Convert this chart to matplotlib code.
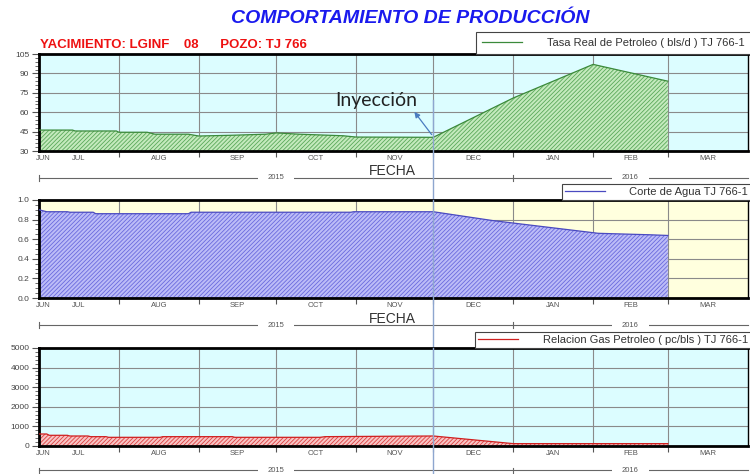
import matplotlib
matplotlib.use('Agg')
import matplotlib.pyplot as plt
import matplotlib.transforms as mtransforms
from matplotlib.ticker import MultipleLocator, FormatStrFormatter
import pandas as pd

plt.rcParams['font.family'] = ['Liberation Sans Narrow', 'Liberation Sans', 'DejaVu Sans']
plt.rcParams['hatch.linewidth'] = 0.6

# Tasa real de petroleo (bls/d)
oil_dates = ['2015-07-01', '2015-07-14', '2015-07-15', '2015-07-31', '2015-08-01',
             '2015-08-12', '2015-08-15', '2015-08-28', '2015-09-01', '2015-09-14',
             '2015-09-27', '2015-10-01', '2015-10-10', '2015-10-27', '2015-11-01',
             '2015-11-30', '2015-12-01', '2016-01-01', '2016-02-01', '2016-03-01']
oil_rate = [46.2, 46.2, 45.5, 45.5, 44.5, 44.5, 43.0, 43.0, 41.6, 42.2,
            43.0, 44.0, 43.0, 41.8, 40.8, 40.6, 40.6, 71.0, 97.0, 84.0]

# Corte de agua (fraccion)
water_dates = ['2015-07-01', '2015-07-04', '2015-07-12', '2015-07-13', '2015-07-22',
               '2015-07-23', '2015-08-28', '2015-08-29', '2015-10-30', '2015-10-31',
               '2015-12-01', '2015-12-24', '2016-02-03', '2016-02-23', '2016-03-01']
water_cut = [0.90, 0.88, 0.88, 0.875, 0.875, 0.86, 0.86, 0.875, 0.875, 0.88,
             0.88, 0.79, 0.66, 0.645, 0.638]

# Relacion gas petroleo (pc/bls)
gas_dates = ['2015-07-01', '2015-07-04', '2015-07-05', '2015-07-12', '2015-07-13',
             '2015-07-20', '2015-07-21', '2015-07-27', '2015-07-28', '2015-08-17',
             '2015-08-18', '2015-09-14', '2015-09-15', '2015-10-18', '2015-10-20',
             '2015-12-01', '2016-01-01', '2016-03-01']
gas_ratio = [612, 612, 545, 545, 510, 510, 476, 476, 442, 442,
             476, 476, 442, 442, 476, 510, 120, 120]

injection_date = '2015-12-01'
month_labels = ['JUN', 'JUL', 'AUG', 'SEP', 'OCT', 'NOV', 'DEC', 'JAN', 'FEB', 'MAR']
years = ['2015', '2016']

x_start = pd.Timestamp('2015-07-01')
x_end = pd.Timestamp('2016-04-01')
month_starts = pd.date_range(x_start, x_end, freq='MS')
label_pos = [x_start + pd.Timedelta(days=1.5)] + [
    a + (b - a) / 2 for a, b in zip(month_starts[:-1], month_starts[1:])]
year_spans = [(x_start, pd.Timestamp('2016-01-01')), (pd.Timestamp('2016-01-01'), x_end)]
inj = pd.Timestamp(injection_date)

fig = plt.figure(figsize=(7.5, 4.74), dpi=100)
left, width = 0.052, 0.945
ax1 = fig.add_axes([left, 0.6814, width, 0.2046])
ax2 = fig.add_axes([left, 0.3713, width, 0.2068])
ax3 = fig.add_axes([left, 0.0591, width, 0.2068])


def draw_panel(ax, dates, values, ylim, ystep, ysub, bg, fill_c, hatch_c, line_c, label,
               legend_pad, yb=-0.277):
    x = pd.to_datetime(dates)
    ax.set_facecolor(bg)
    ax.set_axisbelow(True)
    ax.fill_between(x, values, ylim[0], facecolor=fill_c, edgecolor=hatch_c,
                    hatch='////////', linewidth=0, zorder=2)
    ax.plot(x, values, color=line_c, lw=0.9, zorder=3, label=label)
    ax.set_xlim(x_start, x_end)
    ax.set_ylim(*ylim)
    ax.yaxis.set_major_locator(MultipleLocator(ystep))
    ax.yaxis.set_minor_locator(MultipleLocator(ystep / ysub))
    ax.set_xticks(month_starts[1:-1])
    ax.set_xticklabels([])
    ax.set_xticks(label_pos, minor=True)
    ax.set_xticklabels(month_labels, minor=True)
    ax.tick_params(axis='x', which='major', length=4, width=0.8, color='#555')
    ax.tick_params(axis='x', which='minor', length=0, labelsize=5.5, labelcolor='#555', pad=3)
    ax.tick_params(axis='y', which='major', length=5, width=0.8, labelsize=6,
                   labelcolor='#444', color='#555', pad=2)
    ax.tick_params(axis='y', which='minor', length=3, width=0.6, color='#555')
    ax.grid(True, which='major', color='#8a8a8a', lw=0.8)
    for side in ['left', 'top', 'bottom']:
        ax.spines[side].set_linewidth(2)
    ax.spines['right'].set_linewidth(1)
    leg = ax.legend(loc='lower right', bbox_to_anchor=(1.004, 1.0), borderaxespad=0,
                    fancybox=False, edgecolor='#444', fontsize=8, handlelength=3.6,
                    handletextpad=2.2, borderpad=legend_pad, framealpha=1)
    leg.get_frame().set_linewidth(0.8)
    for t in leg.get_texts():
        t.set_color('#333')
    # barra de años
    trans = mtransforms.blended_transform_factory(ax.transData, ax.transAxes)
    for yr, (s, e) in zip(years, year_spans):
        ax.plot([s, e], [yb, yb], transform=trans, clip_on=False, color='#666', lw=0.8)
        ax.plot([s, s], [yb - 0.03, yb + 0.03], transform=trans, clip_on=False,
                color='#666', lw=0.8)
        ax.text(s + (e - s) / 2, yb, yr, transform=trans, ha='center', va='center',
                fontsize=5.5, color='#555', clip_on=False,
                bbox=dict(boxstyle='square,pad=1.3', fc='white', ec='none'))


draw_panel(ax1, oil_dates, oil_rate, (30, 105), 15, 5, '#dcfdff', '#c4eabd', '#5aa85a',
           '#3b8a3b', 'Tasa Real de Petroleo ( bls/d ) TJ 766-1', 0.55)
draw_panel(ax2, water_dates, water_cut, (0, 1.0), 0.2, 4, '#ffffde', '#bcbcf7', '#6a6ade',
           '#4a4ac0', 'Corte de Agua TJ 766-1', 0.25)
draw_panel(ax3, gas_dates, gas_ratio, (0, 5000), 1000, 5, '#dcfdff', '#f7c4c4', '#de4040',
           '#d02020', 'Relacion Gas Petroleo ( pc/bls ) TJ 766-1', 0.25, yb=-0.25)
ax2.yaxis.set_major_formatter(FormatStrFormatter('%.1f'))

# FECHA
for ax in (ax1, ax2):
    ax.text(0.499, -0.21, 'FECHA', transform=ax.transAxes, ha='center', va='center',
            fontsize=10, color='#333')

# linea de inyeccion
ax1.axvline(inj, ymin=-0.5, ymax=0.53, color='#8ea6cf', lw=1.0, clip_on=False, zorder=5)
ax2.axvline(inj, ymin=-0.53, ymax=1.0, color='#8ea6cf', lw=1.0, clip_on=False, zorder=5)
ax3.axvline(inj, ymin=-0.32, ymax=1.0, color='#8ea6cf', lw=1.0, clip_on=False, zorder=5)
ax1.annotate('', xy=(inj - pd.Timedelta(days=8), 62), xytext=(inj, 41),
             arrowprops=dict(arrowstyle='-|>', color='#4a7cc0', lw=0.9, mutation_scale=8),
             zorder=6)
ax1.text(inj - pd.Timedelta(days=22), 69, 'Inyección', fontsize=14, family='Lato',
         ha='center', va='center', color='#222', zorder=6)

fig.text(0.547, 0.962, 'COMPORTAMIENTO DE PRODUCCIÓN', ha='center', va='center',
         fontsize=14, fontweight='bold', fontstyle='italic', color='#1a1aee',
         family=['Liberation Sans', 'DejaVu Sans'])
fig.text(0.054, 0.905, 'YACIMIENTO: LGINF    08      POZO: TJ 766', ha='left',
         va='center', fontsize=9.5, fontweight='bold', color='#ee1111')

fig.savefig('out.png', dpi=100)
